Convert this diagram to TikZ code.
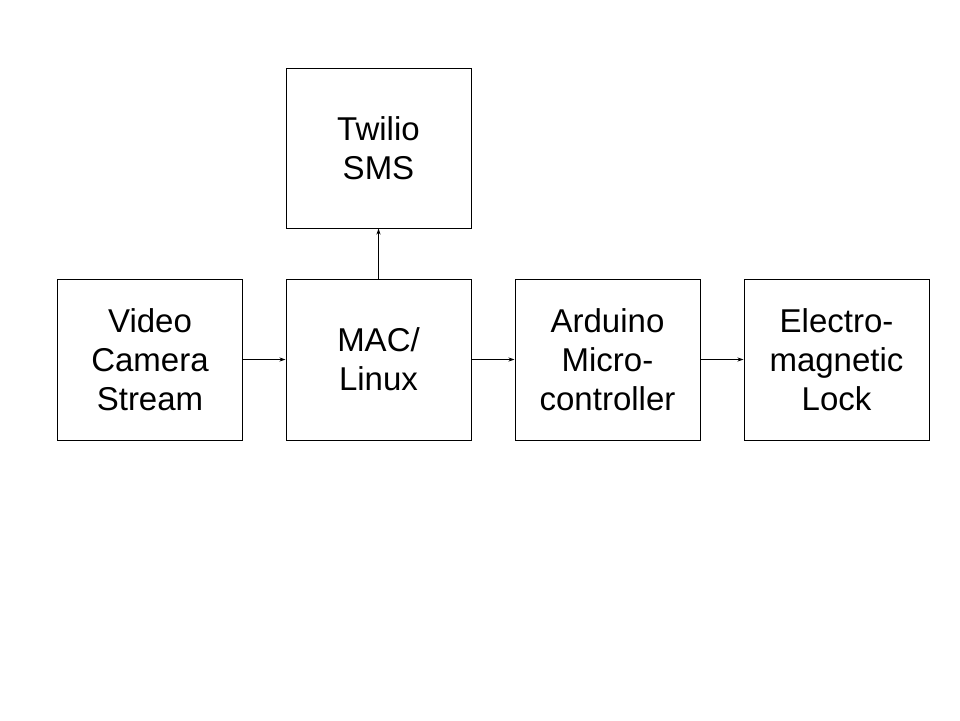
\documentclass[tikz,border=0pt]{standalone}
\usepackage{fontspec}
\setmainfont{Liberation Sans}
\usetikzlibrary{arrows.meta}
\begin{document}
\begin{tikzpicture}[x=1pt,y=-1pt,
  blk/.style={draw=black,line width=1pt,minimum width=185pt,minimum height=161pt,inner sep=0pt,align=center,font=\fontsize{33}{39}\selectfont},
  conn/.style={line width=0.8pt,-{Stealth[length=6pt,width=4pt]}}]
\useasboundingbox (0,0) rectangle (960,720);
\node[blk] (video) at (150,359.5) {Video\\Camera\\Stream};
\node[blk] (mac) at (378.5,359.5) {MAC/\\Linux};
\node[blk] (ard) at (607.5,359.5) {Arduino\\Micro-\\controller};
\node[blk] (lock) at (836.5,359.5) {Electro-\\magnetic\\Lock};
\node[blk,minimum height=160pt] (sms) at (378.5,148) {Twilio\\SMS};
\draw[conn] (video.east) -- (mac.west);
\draw[conn] (mac.east) -- (ard.west);
\draw[conn] (ard.east) -- (lock.west);
\draw[conn] (mac.north) -- (sms.south);
\end{tikzpicture}
\end{document}
